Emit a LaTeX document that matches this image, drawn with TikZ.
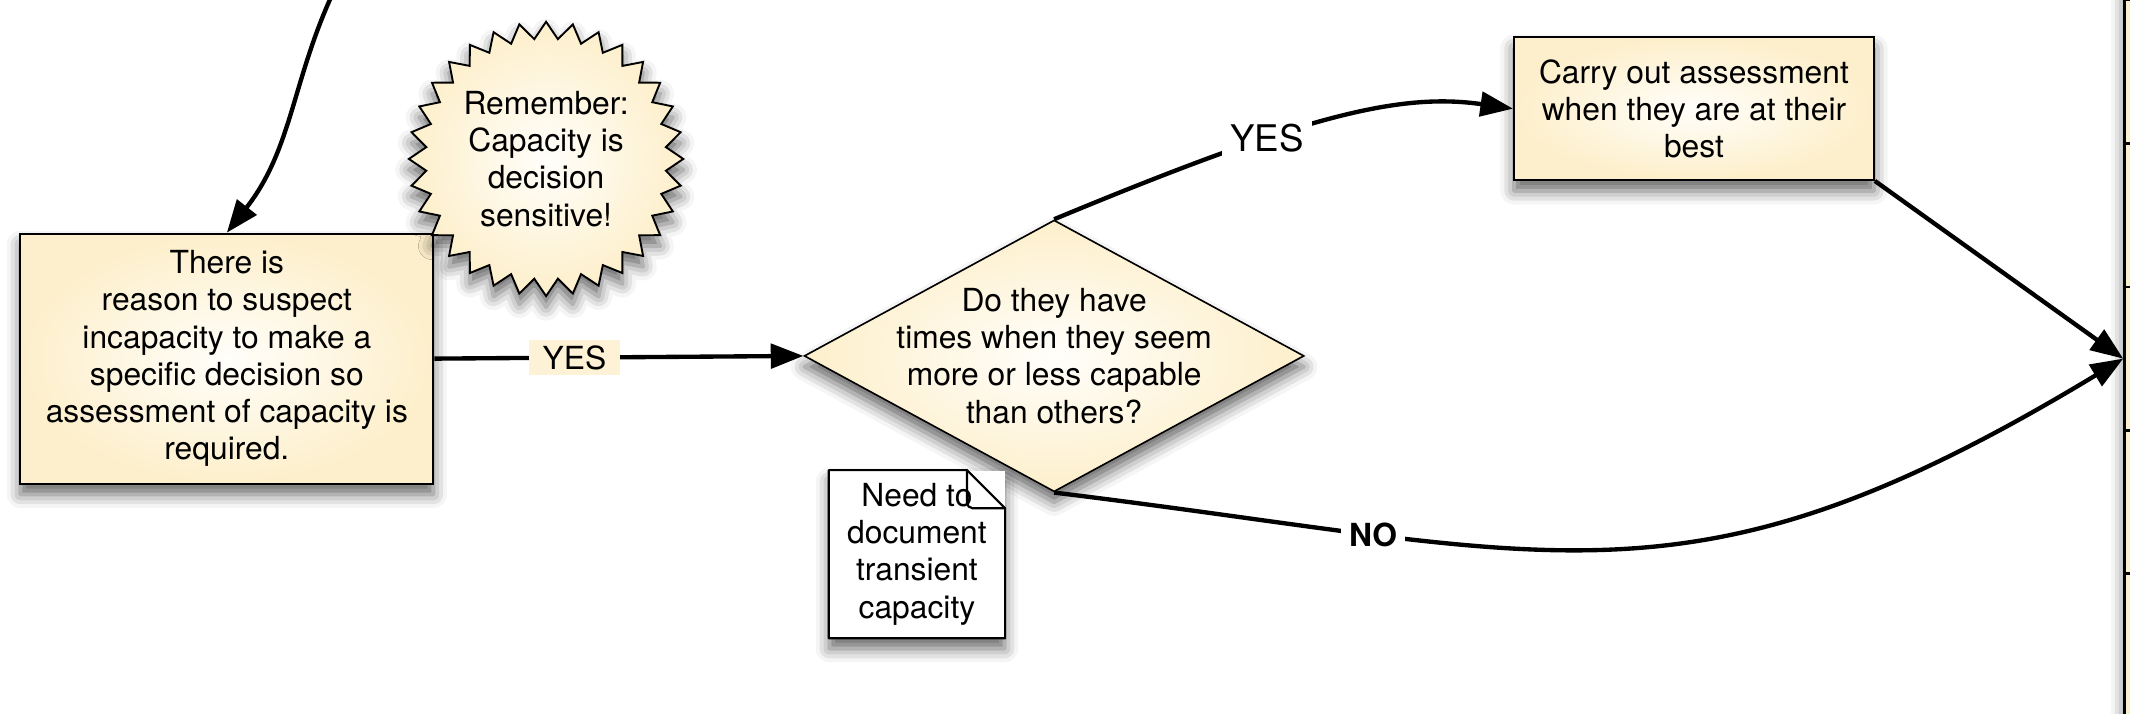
\documentclass[tikz,border=0pt]{standalone}
\usepackage{fontspec}
\setmainfont{TeX Gyre Heros}
\usetikzlibrary{arrows.meta,shapes.geometric,shadows.blur}

\definecolor{creamedge}{HTML}{FDEFCB}
\definecolor{creamcore}{HTML}{FFFEFA}
\definecolor{creamtag}{HTML}{FDF2D6}

\tikzset{
  soft shadow/.style={blur shadow={shadow xshift=0pt, shadow yshift=-4pt, shadow blur radius=5pt, shadow opacity=60}},
  creamfill/.style={draw=black, inner color=creamcore, outer color=creamedge},
  stepbox/.style={creamfill, soft shadow, line width=0.7pt, align=center, inner sep=0pt},
  decision/.style={creamfill, soft shadow, diamond, aspect=1.84, line width=0.6pt, align=center,
    inner sep=-6pt, minimum width=184pt, minimum height=100pt},
  burst/.style={creamfill, soft shadow, star, star points=32, star point ratio=1.14,
    minimum size=101pt, line width=0.7pt, align=center, inner sep=0pt},
  notebox/.style={fill=white, soft shadow, align=center, minimum width=64.5pt, minimum height=61.5pt, inner sep=0pt},
  cellbox/.style={creamfill, line width=1pt, minimum width=60pt, minimum height=52.8pt},
  flow/.style={line width=1.6pt, -{Triangle[length=12pt,width=9pt,fill=black]}},
  branchlabel/.style={fill=white, inner sep=3pt},
}

\begin{document}
\begin{tikzpicture}[x=0.5pt, y=-0.5pt, font=\fontsize{11.7}{13.7}\selectfont]
    \useasboundingbox (0,0) rectangle (1568,525);

    % Column of cells running off the right edge
    \path[soft shadow] (1564,-20) rectangle (1700,545);
    \foreach \i in {1,...,5}
        \node[cellbox] (cell\i) at (1624,{(\i-0.5)*105.6}) {};

    % Main steps
    \node[stepbox, minimum width=152pt, minimum height=92pt] (reason) at (167,264)
        {There is\\reason to suspect\\incapacity to make a\\specific decision so\\assessment of capacity is\\required.};
    \node[burst] (remember) at (402,117) {Remember:\\Capacity is\\decision\\sensitive!};
    \node[decision] (question) at (776,262)
        {Do they have\\times when they seem\\more or less capable\\than others?};
    \node[stepbox, minimum width=132.5pt, minimum height=52.5pt] (assess) at (1247,80)
        {Carry out assessment\\when they are at their\\best};

    % Note with folded corner
    \node[notebox] (note) at (675,408) {Need to\\document\\transient\\capacity};
    \draw[line width=0.8pt, line join=round] (note.north west) -- ([xshift=-14pt]note.north east)
        -- ([yshift=-14pt]note.north east) -- (note.south east) -- (note.south west) -- cycle;
    \draw[line width=0.8pt, rounded corners=2pt] ([xshift=-14pt]note.north east) -- ++(0,-14pt)
        -- ([yshift=-14pt]note.north east);

    % Connectors
    \coordinate (fromabove) at (245,-5);
    \draw[flow] (fromabove) .. controls (215,60) and (215,110) .. (reason.north);
    \draw[flow] (reason.east) -- node[pos=0.38, fill=creamtag, inner xsep=5pt, inner ysep=2pt] {YES} (question.west);
    \draw[flow] (question.north) .. controls (960,85) and (1030,68) .. node[pos=0.35, branchlabel, font=\fontsize{13.5}{15}\selectfont] {YES} (assess.west);
    \draw[flow] (assess.south east) -- (cell3.west);
    \draw[flow] (question.south) .. controls (1148,408) and (1242,458) .. node[pos=0.25, branchlabel, font=\fontsize{11.7}{13.7}\selectfont\bfseries] {NO} (cell3.west);

\end{tikzpicture}
\end{document}
